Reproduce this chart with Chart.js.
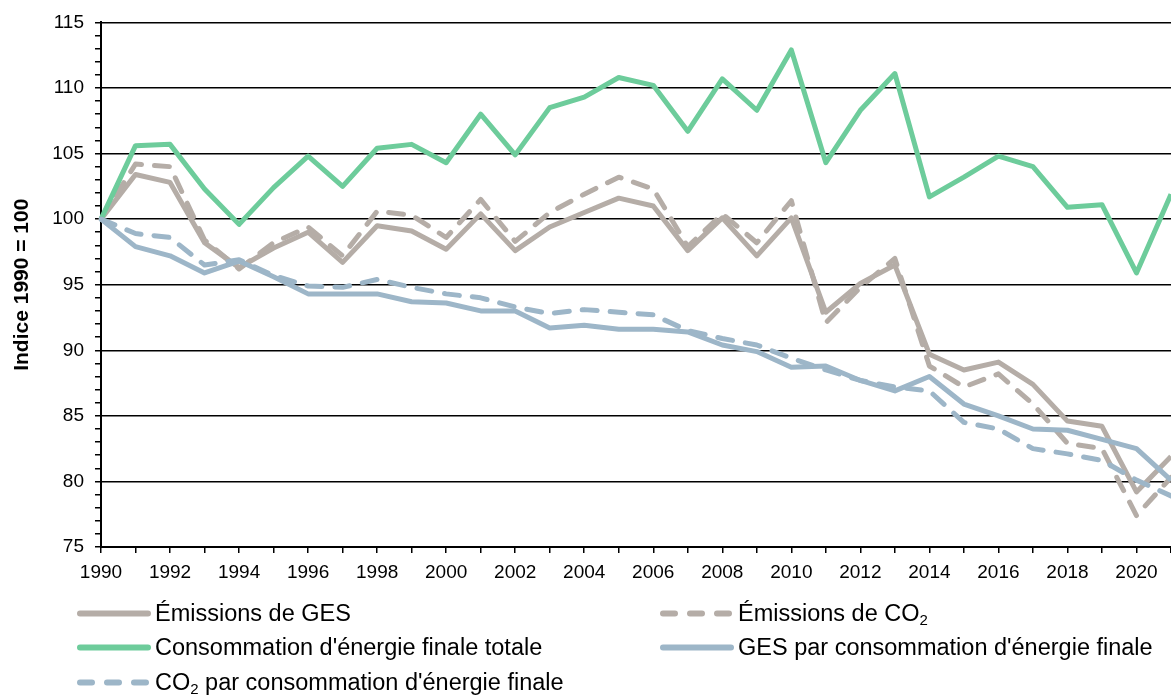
<!DOCTYPE html>
<html>
<head>
<meta charset="utf-8">
<script src="https://cdn.jsdelivr.net/npm/chart.js@4/dist/chart.umd.min.js"></script>
<style>
  body { margin: 0; background: #fff; }
  #wrap { position: relative; width: 1171px; height: 695px; overflow: hidden; }
  .leg { position: absolute; display: flex; align-items: center; white-space: nowrap;
         font: 23.5px 'Liberation Sans', Arial, sans-serif; color: #000; transform: translateY(-50%); }
  .leg svg { margin-right: 4px; }
  .leg sub { font-size: 15px; vertical-align: -4px; line-height: 0; }
</style>
</head>
<body>
<div id="wrap">
  <canvas id="chart" width="1171" height="695"></canvas>
</div>
<script>
const years = [1990,1991,1992,1993,1994,1995,1996,1997,1998,1999,2000,2001,2002,2003,2004,2005,
               2006,2007,2008,2009,2010,2011,2012,2013,2014,2015,2016,2017,2018,2019,2020,2021];

const emissionsGES = [100,103.4,102.8,98.2,96.3,97.8,99.0,96.7,99.5,99.1,97.7,100.4,97.6,99.4,100.5,101.6,
                      101.0,97.6,100.1,97.2,100.1,92.9,95.1,96.5,89.7,88.5,89.1,87.4,84.6,84.2,79.2,81.9];
const emissionsCO2 = [100,104.2,104.0,98.4,96.2,98.2,99.4,97.2,100.6,100.3,98.6,101.5,98.3,100.5,101.9,103.2,
                      102.3,97.9,100.4,98.2,101.4,92.1,94.8,97.0,88.8,87.2,88.2,85.9,82.9,82.5,77.4,80.3];
const consoFinale = [100,105.6,105.7,102.3,99.6,102.4,104.8,102.5,105.4,105.7,104.3,108.0,104.9,108.5,109.3,110.8,
                     110.2,106.7,110.7,108.3,112.9,104.3,108.3,111.1,101.7,103.2,104.8,104.0,100.9,101.1,95.9,101.9];
const gesParConso = [100,97.9,97.2,95.9,96.8,95.6,94.3,94.3,94.3,93.7,93.6,93.0,93.0,91.7,91.9,91.6,
                     91.6,91.4,90.4,89.9,88.7,88.8,87.7,86.9,88.0,85.9,85.0,84.0,83.9,83.2,82.5,80.1];
const co2ParConso = [100,98.9,98.6,96.5,96.9,95.7,94.9,94.8,95.4,94.8,94.3,94.0,93.3,92.8,93.1,92.9,
                     92.7,91.5,90.9,90.4,89.4,88.5,87.7,87.2,86.9,84.5,84.0,82.5,82.1,81.6,80.1,78.9];

const yMin = 75, yMax = 115;

const TAUPE = '#b5ada7', GREEN = '#6dcc9b', BLUE = '#9db6c8';

// legend: label html, colour, dashed, column, row
const series = [
  { label: 'Émissions de GES', html: 'Émissions de GES', data: emissionsGES, color: TAUPE, dashed: false, col: 0, row: 0 },
  { label: 'Émissions de CO2', html: 'Émissions de CO<sub>2</sub>', data: emissionsCO2, color: TAUPE, dashed: true, col: 1, row: 0 },
  { label: "Consommation d'énergie finale totale", html: "Consommation d'énergie finale totale", data: consoFinale, color: GREEN, dashed: false, col: 0, row: 1 },
  { label: "GES par consommation d'énergie finale", html: "GES par consommation d'énergie finale", data: gesParConso, color: BLUE, dashed: false, col: 1, row: 1 },
  { label: "CO2 par consommation d'énergie finale", html: "CO<sub>2</sub> par consommation d'énergie finale", data: co2ParConso, color: BLUE, dashed: true, col: 0, row: 2 }
];

Chart.defaults.font.family = "'Liberation Sans', Arial, sans-serif";
Chart.defaults.color = '#000';

const ctx = document.getElementById('chart').getContext('2d');
const chart = new Chart(ctx, {
  type: 'line',
  data: {
    labels: years.map(String),
    datasets: series.map((s, i) => ({
      label: s.label,
      data: s.data,
      borderColor: s.color,
      backgroundColor: s.color,
      borderWidth: 5,
      borderDash: s.dashed ? [15, 13] : [],
      borderCapStyle: s.dashed ? 'round' : 'butt',
      borderJoinStyle: 'round',
      pointRadius: 0,
      tension: 0,
      fill: false,
      order: series.length - i
    }))
  },
  options: {
    responsive: false,
    animation: false,
    layout: { padding: { top: 22, right: 0, bottom: 108, left: 0 } },
    plugins: { legend: { display: false }, tooltip: { enabled: false } },
    scales: {
      x: {
        type: 'category',
        offset: false,
        afterFit: scale => { scale.height = 40; scale.paddingRight = 0; },
        grid: { drawOnChartArea: false, drawTicks: true, tickLength: 6, color: '#000', lineWidth: 1.5, offset: false },
        border: { color: '#000', width: 2 },
        ticks: {
          autoSkip: false, maxRotation: 0, minRotation: 0, padding: 8,
          font: { size: 19 },
          callback: (v, i) => (years[i] % 2 === 0 ? String(years[i]) : '')
        }
      },
      y: {
        min: yMin, max: yMax,
        afterFit: scale => { scale.width = 101; },
        grid: {
          color: c => (c.tick && c.tick.value % 5 === 0 ? '#000' : 'rgba(0,0,0,0)'),
          tickColor: '#000', lineWidth: 1.5, tickLength: 6, drawTicks: true
        },
        border: { color: '#000', width: 2 },
        ticks: {
          stepSize: 1, maxTicksLimit: 100, autoSkip: false, padding: 11,
          font: { size: 19 },
          callback: v => (v % 5 === 0 ? String(v) : '')
        },
        title: {
          display: true, text: 'Indice 1990 = 100',
          font: { size: 21, weight: 'bold' },
          padding: { top: 10, bottom: 0 }
        }
      }
    }
  }
});

// HTML legend in two columns, built from the series list
const colX = [77, 660], rowY = [613, 647, 682];
const wrap = document.getElementById('wrap');
series.forEach(s => {
  const d = document.createElement('div');
  d.className = 'leg';
  d.style.left = colX[s.col] + 'px';
  d.style.top = rowY[s.row] + 'px';
  const dash = s.dashed ? ' stroke-dasharray="12 15"' : '';
  d.innerHTML = '<svg width="74" height="10"><line x1="3" y1="5" x2="71" y2="5" stroke="' + s.color +
    '" stroke-width="6" stroke-linecap="round"' + dash + '/></svg><span>' + s.html + '</span>';
  wrap.appendChild(d);
});
</script>
</body>
</html>
